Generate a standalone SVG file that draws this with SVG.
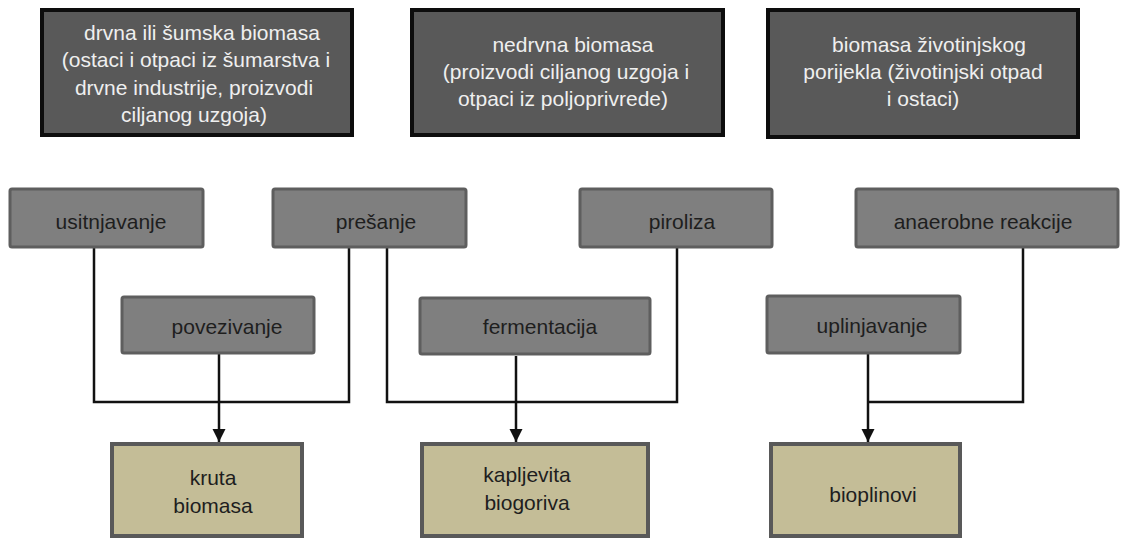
<svg xmlns="http://www.w3.org/2000/svg" width="1121" height="539" viewBox="0 0 1121 539">
<style>
.src{fill:#595959;stroke:#0d0d0d;stroke-width:4}
.proc{fill:#7f7f7f;stroke:#5e5e5e;stroke-width:3}
.out{fill:#c4bd97;stroke:#595959;stroke-width:4}
text{font-family:"Liberation Sans",Arial,sans-serif;font-size:21px;text-anchor:middle}
.lt{fill:#efefef}
.dk{fill:#1e1e1e}
.con{fill:none;stroke:#111;stroke-width:2.5}
</style>
<defs>
<marker id="arr" markerUnits="userSpaceOnUse" markerWidth="14" markerHeight="14" refX="13" refY="6.5" orient="auto">
<path d="M0,0 L13,6.5 L0,13 z" fill="#111"/>
</marker>
</defs>
<rect width="1121" height="539" fill="#fff"/>
<g id="connectors">
<path class="con" d="M94,248 V402 H349 V248"/>
<path class="con" d="M387,248 V402 H677 V248"/>
<path class="con" d="M1023,248 V402 H868"/>
<path class="con" d="M219,354 V442" marker-end="url(#arr)"/>
<path class="con" d="M516,356 V442" marker-end="url(#arr)"/>
<path class="con" d="M868,354 V442" marker-end="url(#arr)"/>
</g>
<g id="n-drvna">
<rect class="src" x="42" y="10" width="310" height="125"/>
<text class="lt" x="202" y="40">drvna ili šumska biomasa</text>
<text class="lt" x="196" y="67">(ostaci i otpaci iz šumarstva i</text>
<text class="lt" x="194" y="95">drvne industrije, proizvodi</text>
<text class="lt" x="194" y="122">ciljanog uzgoja)</text>
</g>
<g id="n-nedrvna">
<rect class="src" x="412" y="10" width="311" height="125"/>
<text class="lt" x="573" y="52">nedrvna biomasa</text>
<text class="lt" x="566" y="79">(proizvodi ciljanog uzgoja i</text>
<text class="lt" x="563" y="106">otpaci iz poljoprivrede)</text>
</g>
<g id="n-zivotinjska">
<rect class="src" x="768" y="10" width="310" height="127"/>
<text class="lt" x="929" y="52">biomasa životinjskog</text>
<text class="lt" x="923" y="79">porijekla (životinjski otpad</text>
<text class="lt" x="923" y="106">i ostaci)</text>
</g>
<g id="n-usitnjavanje">
<rect class="proc" x="10" y="189" width="193" height="58" rx="2"/>
<text class="dk" x="111" y="229">usitnjavanje</text>
</g>
<g id="n-presanje">
<rect class="proc" x="273" y="189" width="193" height="58" rx="2"/>
<text class="dk" x="376" y="229">prešanje</text>
</g>
<g id="n-piroliza">
<rect class="proc" x="580" y="189" width="192" height="58" rx="2"/>
<text class="dk" x="682" y="229">piroliza</text>
</g>
<g id="n-anaerobne">
<rect class="proc" x="856" y="189" width="262" height="58" rx="2"/>
<text class="dk" x="983" y="229">anaerobne reakcije</text>
</g>
<g id="n-povezivanje">
<rect class="proc" x="122" y="297" width="192" height="56" rx="2"/>
<text class="dk" x="227" y="334">povezivanje</text>
</g>
<g id="n-fermentacija">
<rect class="proc" x="420" y="298" width="230" height="56" rx="2"/>
<text class="dk" x="540" y="334">fermentacija</text>
</g>
<g id="n-uplinjavanje">
<rect class="proc" x="767" y="296" width="193" height="57" rx="2"/>
<text class="dk" x="872" y="333">uplinjavanje</text>
</g>
<g id="n-kruta">
<rect class="out" x="112" y="444" width="190" height="92"/>
<text class="dk" x="213" y="485">kruta</text>
<text class="dk" x="213" y="513">biomasa</text>
</g>
<g id="n-kapljevita">
<rect class="out" x="422" y="444" width="226" height="92"/>
<text class="dk" x="527" y="482">kapljevita</text>
<text class="dk" x="527" y="510">biogoriva</text>
</g>
<g id="n-bioplinovi">
<rect class="out" x="771" y="444" width="189" height="92"/>
<text class="dk" x="873" y="502">bioplinovi</text>
</g>
</svg>
